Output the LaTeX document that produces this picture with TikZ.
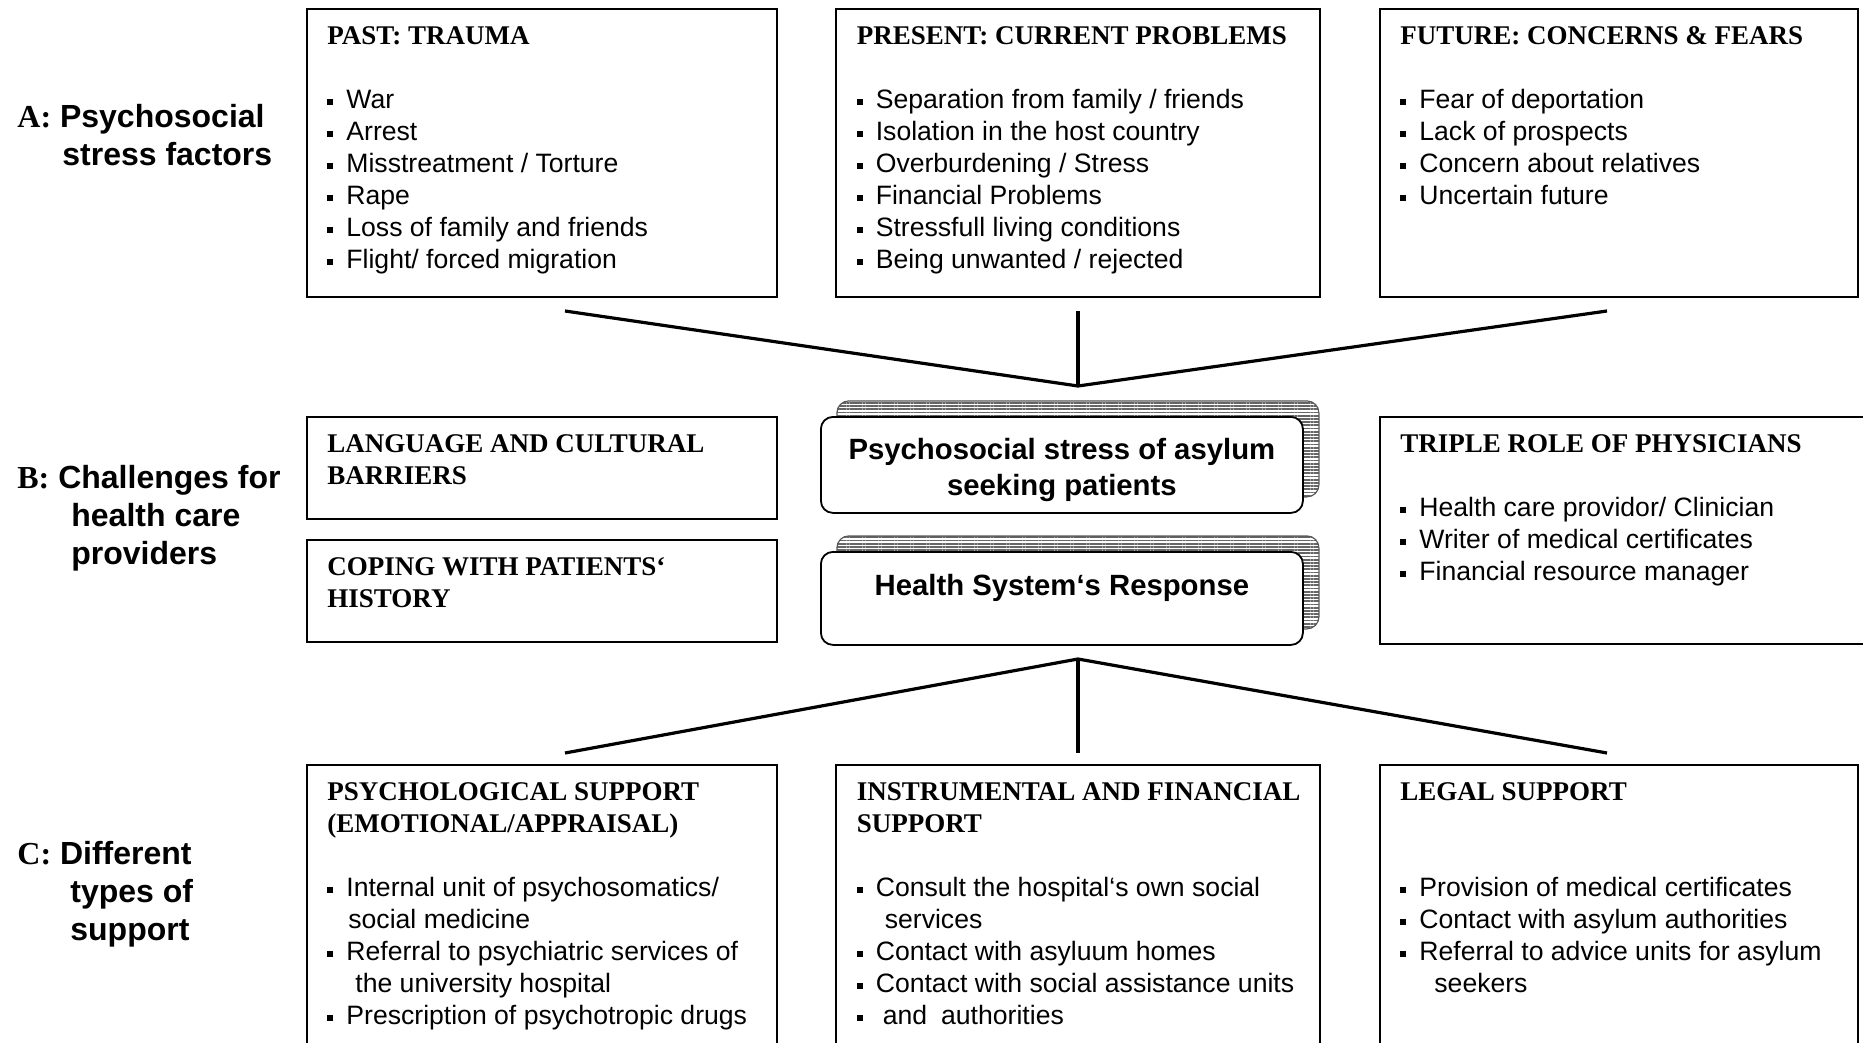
\documentclass[tikz,border=0pt]{standalone}
\usepackage{fontspec}
\setmainfont{Liberation Sans}
\newfontfamily\capsfont{Liberation Serif}
\usetikzlibrary{positioning,shadows,patterns.meta}

\newcommand{\hd}[1]{{\capsfont\bfseries\fontsize{13.5}{16}\selectfont #1}}
\newcommand{\itm}{\rule[1.8pt]{3pt}{3pt}\hspace{6.5pt}}

\begin{document}
\begin{tikzpicture}[x=0.5pt, y=-0.5pt,
    box/.style = {draw, line width=0.9pt, inner sep=0pt, anchor=north west},
    txt/.style = {anchor=north west, inner sep=0pt, align=left, font=\fontsize{13.3}{16}\selectfont},
    hub/.style = {draw, line width=0.9pt, fill=white, rounded corners=6pt, minimum width=241pt,
        anchor=north west,
        general shadow={shadow xshift=8pt, shadow yshift=8pt, draw=black!65, line width=0.6pt,
            pattern={Lines[distance=1.6pt, line width=0.9pt]}, pattern color=black!60}},
    hubtxt/.style = {align=center, font=\fontsize{14.65}{18}\selectfont\bfseries},
    side/.style = {anchor=north west, inner sep=0pt, align=left, font=\fontsize{16}{19}\selectfont\bfseries},
    link/.style = {line width=1.6pt}]

    \useasboundingbox (0,0) rectangle (1863,1043);
    \clip (0,0) rectangle (1863,1043);

    % row A
    \node[box, minimum width=235pt, minimum height=144pt] (past) at (306,8) {};
    \node[box, minimum width=242pt, minimum height=144pt, right=28.8pt of past] (present) {};
    \node[box, minimum width=239pt, minimum height=144pt, right=28.9pt of present] (future) {};

    \node[txt] (pastt) at ([shift={(21,18)}]past.north west) {\hd{PAST: TRAUMA}\\[16pt]
        \itm War\\
        \itm Arrest\\
        \itm Misstreatment / Torture\\
        \itm Rape\\
        \itm Loss of family and friends\\
        \itm Flight/ forced migration};
    \node[txt] (presentt) at ([shift={(21,18)}]present.north west) {\hd{PRESENT: CURRENT PROBLEMS}\\[16pt]
        \itm Separation from family / friends\\
        \itm Isolation in the host country\\
        \itm Overburdening / Stress\\
        \itm Financial Problems\\
        \itm Stressfull living conditions\\
        \itm Being unwanted / rejected};
    \node[txt] (futuret) at ([shift={(21,18)}]future.north west) {\hd{FUTURE: CONCERNS \& FEARS}\\[16pt]
        \itm Fear of deportation\\
        \itm Lack of prospects\\
        \itm Concern about relatives\\
        \itm Uncertain future};

    \coordinate (tl) at (565,311);
    \coordinate (tm) at (1078,311);
    \coordinate (tr) at (1607,311);
    \coordinate (tj) at (1078,386);
    \draw[link] (tl) -- (tj) -- (tr);
    \draw[link] (tm) -- (tj);

    % row B
    \node[box, minimum width=235pt, minimum height=51pt] (lang) at (306,416) {};
    \node[box, minimum width=235pt, minimum height=51pt, below=9.7pt of lang] (coping) {};
    \node[box, minimum width=260pt, minimum height=113.5pt] (triple) at (1379,416) {};

    \node[txt] (langt) at ([shift={(21,18)}]lang.north west) {\hd{LANGUAGE AND CULTURAL}\\\hd{BARRIERS}};
    \node[txt] (copingt) at ([shift={(21,18)}]coping.north west) {\hd{COPING WITH PATIENTS‘}\\\hd{HISTORY}};
    \node[txt] (triplet) at ([shift={(21,18)}]triple.north west) {\hd{TRIPLE ROLE OF PHYSICIANS}\\[16pt]
        \itm Health care providor/ Clinician\\
        \itm Writer of medical certificates\\
        \itm Financial resource manager};

    \node[hub, minimum height=48pt] (stress) at (820,416) {};
    \node[hubtxt] (stresst) at ([shift={(0,5)}]stress.center) {Psychosocial stress of asylum\\seeking patients};
    \node[hub, minimum height=46.5pt] (hsr) at (820,551) {};
    \node[hubtxt] (hsrt) at ([shift={(0,-10.5)}]hsr.center) {Health System‘s Response};

    \coordinate (bj) at (1078,659);
    \coordinate (bl) at (565,753);
    \coordinate (bm) at (1078,753);
    \coordinate (br) at (1607,753);
    \draw[link] (bl) -- (bj) -- (br);
    \draw[link] (bj) -- (bm);

    % row C
    \node[box, minimum width=235pt, minimum height=160pt] (psy) at (306,764) {};
    \node[box, minimum width=242pt, minimum height=160pt, right=28.8pt of psy] (instr) {};
    \node[box, minimum width=239pt, minimum height=160pt, right=28.9pt of instr] (legal) {};

    \node[txt] (psyt) at ([shift={(21,18)}]psy.north west) {\hd{PSYCHOLOGICAL SUPPORT}\\\hd{(EMOTIONAL/APPRAISAL)}\\[16pt]
        \itm Internal unit of psychosomatics/\\
        \hspace*{10.5pt}social medicine\\
        \itm Referral to psychiatric services of\\
        \hspace*{14pt}the university hospital\\
        \itm Prescription of psychotropic drugs};
    \node[txt] (instrt) at ([shift={(21,18)}]instr.north west) {\hd{INSTRUMENTAL AND FINANCIAL}\\\hd{SUPPORT}\\[16pt]
        \itm Consult the hospital‘s own social\\
        \hspace*{14pt}services\\
        \itm Contact with asyluum homes\\
        \itm Contact with social assistance units\\
        \itm \hspace{3.5pt}and\hspace{7pt}authorities};
    \node[txt] (legalt) at ([shift={(21,18)}]legal.north west) {\hd{LEGAL SUPPORT}\\[32pt]
        \itm Provision of medical certificates\\
        \itm Contact with asylum authorities\\
        \itm Referral to advice units for asylum\\
        \hspace*{17pt}seekers};

    % row labels
    \node[side] (sa) at (17,104) {{\capsfont A:} Psychosocial\\\hspace*{22.5pt}stress factors};
    \node[side] (sb) at (17,465) {{\capsfont B:} Challenges for\\\hspace*{27pt}health care\\\hspace*{27pt}providers};
    \node[side] (sc) at (17,841) {{\capsfont C:} Different\\\hspace*{26.5pt}types of\\\hspace*{26.5pt}support};
\end{tikzpicture}
\end{document}
